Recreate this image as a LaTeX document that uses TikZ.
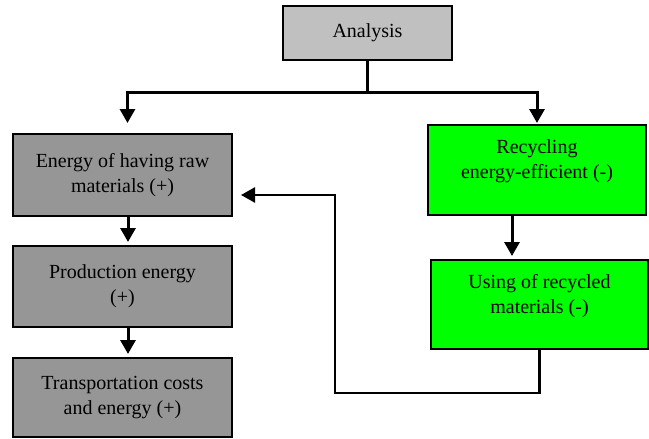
\documentclass[tikz,border=0pt]{standalone}
\usepackage{fontspec}
\setmainfont{Liberation Serif}
\usetikzlibrary{arrows.meta,positioning}
\definecolor{boxlight}{RGB}{192,192,192}
\definecolor{boxdark}{RGB}{150,150,150}
\definecolor{boxgreen}{RGB}{0,255,0}
\newcommand{\uptext}[1]{\raisebox{9pt}[\height][\depth]{\begin{tabular}{@{}c@{}}#1\end{tabular}}}
\begin{document}
\begin{tikzpicture}[x=1pt, y=1pt,
  every node/.style={font=\fontsize{20}{25}\selectfont},
  stepbox/.style={draw=black, line width=2pt, rectangle, align=center, inner sep=0pt},
  arr/.style={line width=3pt, -{Triangle[width=15pt,length=14pt]}, shorten >=3pt},
  link/.style={line width=3pt}]
  \useasboundingbox (0,0) rectangle (649,-439);

  \node[stepbox, fill=boxlight, minimum width=169pt, minimum height=54pt] (ana) at (367.5,-33) {Analysis};

  \node[stepbox, fill=boxdark, minimum width=219pt, minimum height=82pt] (raw) at (122.5,-175) {Energy of having raw\\materials (+)};
  \node[stepbox, fill=boxdark, minimum width=219pt, minimum height=81pt] (prod) at (122.5,-286.5) {Production energy\\(+)};
  \node[stepbox, fill=boxdark, minimum width=219pt, minimum height=79pt] (trans) at (122.5,-397.5) {Transportation costs\\and energy (+)};

  \node[stepbox, fill=boxgreen, minimum width=218pt, minimum height=90pt] (recyc) at (537,-170) {\uptext{Recycling\\energy-efficient (-)}};
  \node[stepbox, fill=boxgreen, minimum width=217pt, minimum height=89pt] (used) at (539.5,-304.5) {\uptext{Using of recycled\\materials (-)}};

  \coordinate (fork) at (367.5,-92);
  \coordinate (loop) at (335,-393);

  \draw[link] (ana) -- (fork);
  \draw[arr, shorten >=10pt] (fork) -| ([xshift=5pt]raw.north);
  \draw[arr, shorten >=1pt] (fork) -| (recyc.north);
  \draw[arr] ([xshift=5.5pt]raw.south) -- ([xshift=5.5pt]prod.north);
  \draw[arr] ([xshift=5.5pt]prod.south) -- ([xshift=5.5pt]trans.north);
  \draw[arr] ([xshift=-25pt]recyc.south) -- ([xshift=-25pt]recyc.south |- used.north);
  \draw[arr, line width=2.5pt, shorten >=8pt] (used.south) |- (loop) |- ([yshift=-20pt]raw.east);
\end{tikzpicture}
\end{document}
